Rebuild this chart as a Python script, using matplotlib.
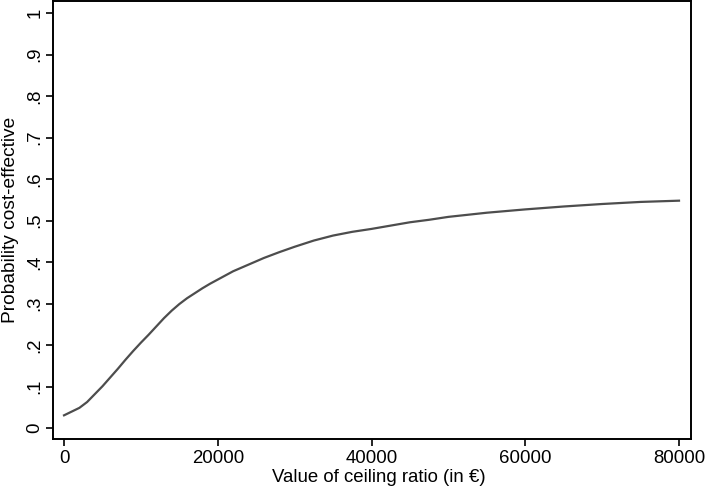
import matplotlib
matplotlib.use("Agg")
import matplotlib.pyplot as plt

plt.rcParams['font.family'] = ['Liberation Sans', 'DejaVu Sans']

ceiling = [0, 1000, 2000, 3000, 4000, 5000, 6000, 7000, 8000, 9000, 10000,
           11000, 12000, 13000, 14000, 15000, 16000, 17000, 18000, 19000, 20000,
           22000, 24000, 26000, 28000, 30000, 32500, 35000, 37500, 40000, 42500,
           45000, 47500, 50000, 55000, 60000, 65000, 70000, 75000, 80000]
prob = [0.031, 0.040, 0.049, 0.063, 0.082, 0.101, 0.122, 0.143, 0.165, 0.186, 0.206,
        0.225, 0.245, 0.265, 0.283, 0.299, 0.313, 0.325, 0.337, 0.348, 0.358,
        0.378, 0.394, 0.410, 0.424, 0.437, 0.452, 0.464, 0.473, 0.480, 0.488,
        0.496, 0.502, 0.509, 0.519, 0.527, 0.534, 0.540, 0.545, 0.548]

xticks = [0, 20000, 40000, 60000, 80000]
xticklabels = ["0", "20000", "40000", "60000", "80000"]
yticks = [0, 0.1, 0.2, 0.3, 0.4, 0.5, 0.6, 0.7, 0.8, 0.9, 1.0]
yticklabels = ["0", ".1", ".2", ".3", ".4", ".5", ".6", ".7", ".8", ".9", "1"]

fig = plt.figure(figsize=(7.09, 4.90), dpi=100)
ax = fig.add_axes([0.0748, 0.1041, 0.8998, 0.8939])
ax.plot(ceiling, prob, color='#4d4d4d', lw=1.6)

ax.set_xlim(-1430, 81560)
ax.set_ylim(-0.026, 1.029)
ax.set_xticks(xticks)
ax.set_xticklabels(xticklabels)
ax.set_yticks(yticks)
ax.set_yticklabels(yticklabels, rotation=90, va='center')
ax.tick_params(direction='out', length=5, width=1.2, labelsize=13.4, colors='black')
ax.tick_params(axis='x', pad=3)
ax.tick_params(axis='y', pad=2)
for s in ax.spines.values():
    s.set_linewidth(1.4)
    s.set_color('black')
ax.set_xlabel("Value of ceiling ratio (in €)", fontsize=13.4)
ax.xaxis.set_label_coords(0.511, -0.068, transform=ax.transAxes)
ax.xaxis.label.set_va('top')
ax.set_ylabel("Probability cost-effective", fontsize=13.8, labelpad=5)

fig.savefig("out.png", dpi=100)
